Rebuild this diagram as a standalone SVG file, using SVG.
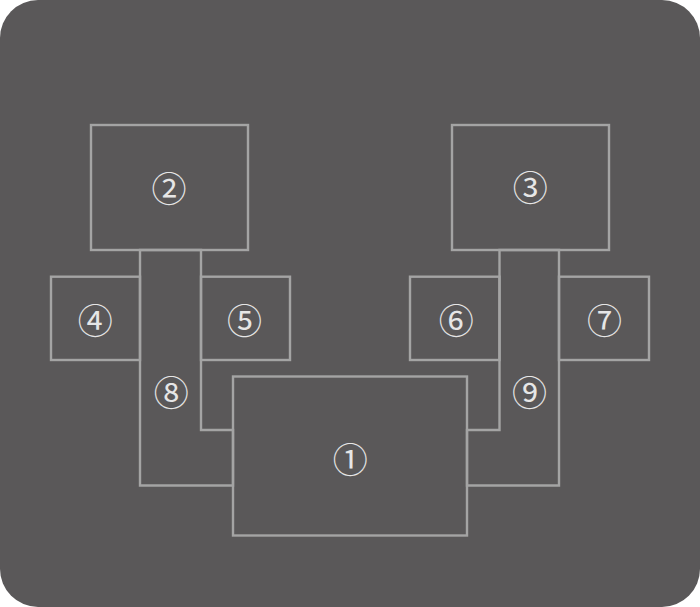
<svg xmlns="http://www.w3.org/2000/svg" width="700" height="607" viewBox="0 0 700 607">
<style>
.bx{fill:none;stroke:#a4a4a4;stroke-width:2.4}
.lb{font-family:"Noto Sans CJK JP","DejaVu Sans",sans-serif;font-size:35px;fill:#e6e6e6;text-anchor:middle;dominant-baseline:central}
</style>
<rect x="0" y="0" width="700" height="607" rx="38" ry="38" fill="#5a5859"/>
<g id="connectors"></g>
<g id="n2"><rect class="bx" x="91" y="125" width="157" height="125"/><text class="lb" x="169" y="186">②</text></g>
<g id="n3"><rect class="bx" x="452" y="125" width="157" height="125"/><text class="lb" x="530.3" y="185.8">③</text></g>
<g id="n4"><rect class="bx" x="51" y="276.7" width="89" height="83.3"/><text class="lb" x="95.3" y="318">④</text></g>
<g id="n5"><rect class="bx" x="201" y="276.7" width="89" height="83.3"/><text class="lb" x="244.5" y="318">⑤</text></g>
<g id="n6"><rect class="bx" x="410" y="276.7" width="89.5" height="83.3"/><text class="lb" x="456.3" y="318">⑥</text></g>
<g id="n7"><rect class="bx" x="559" y="276.7" width="90" height="83.3"/><text class="lb" x="604.5" y="318">⑦</text></g>
<g id="n8"><polygon class="bx" points="140,250 201,250 201,430 233,430 233,485.5 140,485.5"/><text class="lb" x="171.3" y="390.7">⑧</text></g>
<g id="n9"><polygon class="bx" points="499.5,250 559,250 559,485.5 467,485.5 467,430 499.5,430"/><text class="lb" x="529.5" y="390.7">⑨</text></g>
<g id="n1"><rect class="bx" x="233" y="376.5" width="234" height="159"/><text class="lb" x="350.3" y="457.8">①</text></g>
</svg>
